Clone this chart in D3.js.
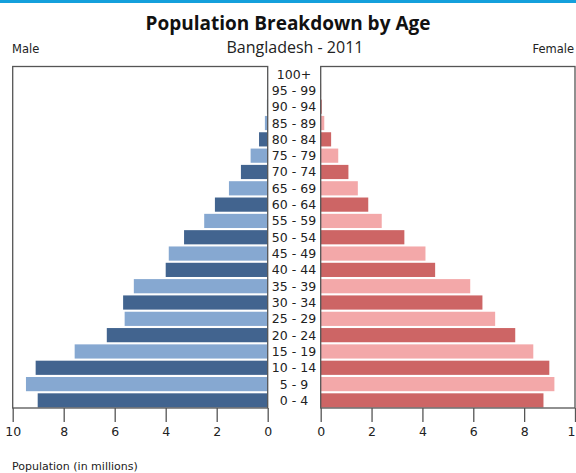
<!DOCTYPE html>
<html>
<head>
<meta charset="utf-8">
<script src="https://cdn.jsdelivr.net/npm/d3@7"></script>
<style>
  body { margin: 0; background: #fff; }
  svg { display: block; }
</style>
</head>
<body>
<svg width="576" height="473"></svg>
<script>
var ageGroups = ["0 - 4", "5 - 9", "10 - 14", "15 - 19", "20 - 24", "25 - 29", "30 - 34", "35 - 39",
    "40 - 44", "45 - 49", "50 - 54", "55 - 59", "60 - 64", "65 - 69", "70 - 74", "75 - 79",
    "80 - 84", "85 - 89", "90 - 94", "95 - 99", "100+"];
// millions
var male = [9.02, 9.48, 9.10, 7.57, 6.31, 5.61, 5.67, 5.25, 4.00, 3.88, 3.28, 2.49, 2.07, 1.52, 1.05, 0.67, 0.34, 0.11, 0.03, 0.015, 0.005];
var female = [8.76, 9.19, 8.99, 8.36, 7.65, 6.86, 6.36, 5.88, 4.50, 4.12, 3.29, 2.40, 1.87, 1.46, 1.09, 0.69, 0.41, 0.14, 0.04, 0.015, 0.005];
var xTicks = [0, 2, 4, 6, 8, 10];

var maleColors = ["#42648f", "#86a8d1"],
    femaleColors = ["#cd6565", "#f3a8a9"];

var svg = d3.select("svg"),
    width = +svg.attr("width"),
    height = +svg.attr("height");

var top_ = 66.5, bottom = 408;
var leftL = 12.7, leftR = 267.7, rightL = 320.7, rightR = 575;

// top accent strip
svg.append("rect")
    .attr("x", 0).attr("y", 0)
    .attr("width", width).attr("height", 3)
    .attr("fill", "#14a0dc");

svg.append("text")
    .attr("x", 288).attr("y", 30)
    .attr("text-anchor", "middle")
    .attr("font-family", "Open Sans")
    .attr("font-weight", "bold")
    .attr("font-size", 19)
    .attr("fill", "#111")
    .text("Population  Breakdown by Age");

svg.append("text")
    .attr("x", 295).attr("y", 53)
    .attr("text-anchor", "middle")
    .attr("font-family", "Open Sans")
    .attr("font-size", 16)
    .attr("fill", "#222")
    .text("Bangladesh - 2011");

svg.append("text")
    .attr("x", 12).attr("y", 53)
    .attr("font-family", "DejaVu Sans")
    .attr("font-size", 11.5)
    .attr("fill", "#222")
    .text("Male");

svg.append("text")
    .attr("x", 574).attr("y", 53)
    .attr("text-anchor", "end")
    .attr("font-family", "DejaVu Sans")
    .attr("font-size", 11.5)
    .attr("fill", "#222")
    .text("Female");

var y = d3.scaleBand()
    .domain(ageGroups)
    .range([bottom, top_])
    .paddingInner(0.13)
    .paddingOuter(0.03);

var xMale = d3.scaleLinear().domain([10, 0]).range([leftL, leftR]);
var xFemale = d3.scaleLinear().domain([0, 10]).range([rightL, rightR]);

// bars
svg.append("g")
    .selectAll("rect")
    .data(male)
    .enter().append("rect")
    .attr("x", function (d) { return xMale(d); })
    .attr("y", function (d, i) { return y(ageGroups[i]); })
    .attr("width", function (d) { return xMale(0) - xMale(d); })
    .attr("height", y.bandwidth())
    .attr("fill", function (d, i) { return maleColors[i % 2]; });

svg.append("g")
    .selectAll("rect")
    .data(female)
    .enter().append("rect")
    .attr("x", xFemale(0))
    .attr("y", function (d, i) { return y(ageGroups[i]); })
    .attr("width", function (d) { return xFemale(d) - xFemale(0); })
    .attr("height", y.bandwidth())
    .attr("fill", function (d, i) { return femaleColors[i % 2]; });

// frames
[[leftL, leftR], [rightL, rightR]].forEach(function (p) {
    svg.append("rect")
        .attr("x", p[0]).attr("y", top_)
        .attr("width", p[1] - p[0]).attr("height", bottom - top_)
        .attr("fill", "none")
        .attr("stroke", "#555")
        .attr("stroke-width", 1.3);
});

// age labels
svg.append("g")
    .selectAll("text")
    .data(ageGroups)
    .enter().append("text")
    .attr("x", 294)
    .attr("y", function (d) { return y(d) + y.bandwidth() / 2; })
    .attr("dy", "0.36em")
    .attr("text-anchor", "middle")
    .attr("font-family", "DejaVu Sans")
    .attr("font-size", 12.5)
    .attr("fill", "#222")
    .text(function (d) { return d; });

// axes
function styleAxis(g) {
    g.select(".domain").remove();
    g.selectAll(".tick line").attr("stroke", "#555").attr("stroke-width", 1.3);
    g.selectAll(".tick text")
        .attr("font-family", "DejaVu Sans")
        .attr("font-size", 12.5)
        .attr("fill", "#222");
}

svg.append("g")
    .attr("transform", "translate(0," + bottom + ")")
    .call(d3.axisBottom(xMale).tickValues(xTicks).tickSize(14).tickPadding(5))
    .call(styleAxis);

svg.append("g")
    .attr("transform", "translate(0," + bottom + ")")
    .call(d3.axisBottom(xFemale).tickValues(xTicks).tickSize(14).tickPadding(5))
    .call(styleAxis);

svg.append("text")
    .attr("x", 12).attr("y", 470)
    .attr("font-family", "DejaVu Sans")
    .attr("font-size", 11)
    .attr("fill", "#222")
    .text("Population (in millions)");
</script>
</body>
</html>
